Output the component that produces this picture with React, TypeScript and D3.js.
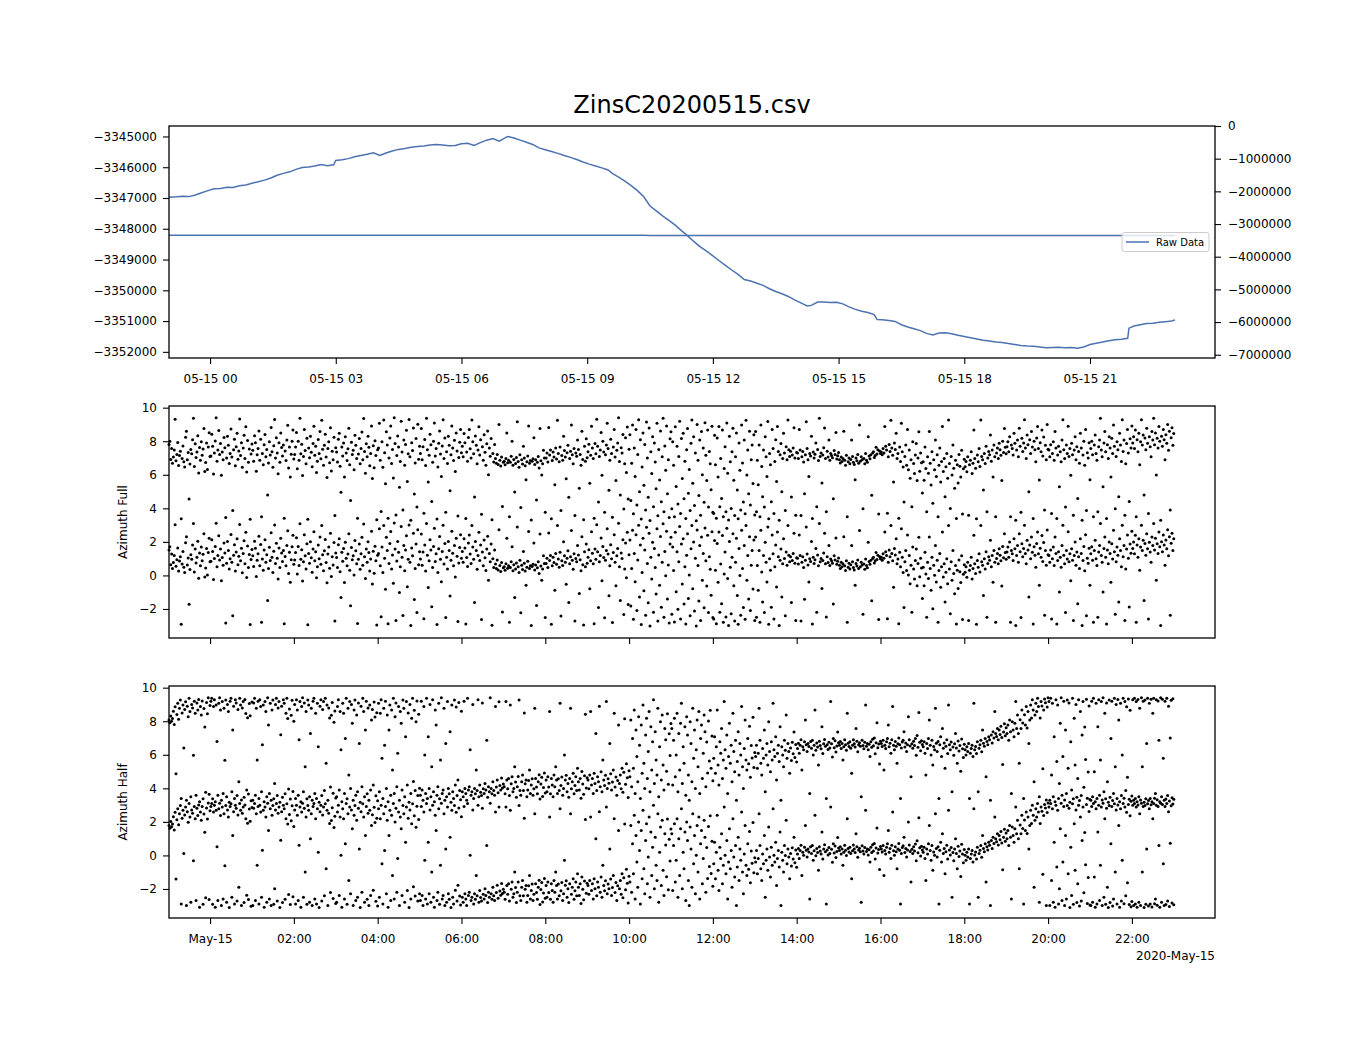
import { useEffect, useRef } from "react";
import * as d3 from "d3";

// ZinsC20200515.csv - raw reading on top, two azimuth scatter panels below

const title = "ZinsC20200515.csv";

// raw data: hours after 2020-05-15 00:00 UTC and the reading
const rawHours = [
  -0.98, -0.8, -0.65, -0.5, -0.35, -0.2, -0.05, 0.1, 0.25, 0.4, 0.55, 0.7, 0.85, 1.0, 1.15, 1.3, 1.45, 1.6, 1.75, 1.9,
  2.05, 2.2, 2.35, 2.5, 2.65, 2.8, 2.95, 3.0, 3.15, 3.3, 3.45, 3.6, 3.75, 3.9, 4.05, 4.2, 4.35, 4.5, 4.65, 4.8,
  4.95, 5.1, 5.25, 5.4, 5.55, 5.7, 5.85, 6.0, 6.15, 6.3, 6.45, 6.6, 6.75, 6.9, 7.0, 7.1, 7.25, 7.4, 7.55, 7.7,
  7.85, 8.0, 8.15, 8.3, 8.45, 8.6, 8.75, 8.9, 9.05, 9.2, 9.35, 9.5, 9.6, 9.75, 9.9, 10.05, 10.2, 10.35, 10.5, 10.65,
  10.8, 10.95, 11.1, 11.25, 11.4, 11.55, 11.7, 11.85, 12.0, 12.15, 12.3, 12.45, 12.6, 12.75, 12.9, 13.05, 13.2, 13.35, 13.5, 13.65,
  13.8, 13.95, 14.1, 14.25, 14.35, 14.5, 14.65, 14.8, 14.95, 15.1, 15.25, 15.4, 15.55, 15.7, 15.85, 15.92, 16.05, 16.2, 16.35, 16.5,
  16.65, 16.8, 16.95, 17.1, 17.25, 17.4, 17.55, 17.7, 17.85, 18.0, 18.15, 18.3, 18.45, 18.6, 18.75, 18.9, 19.05, 19.2, 19.35, 19.5,
  19.65, 19.8, 19.95, 20.1, 20.25, 20.4, 20.55, 20.7, 20.85, 21.0, 21.15, 21.3, 21.45, 21.6, 21.75, 21.9, 21.93, 22.05, 22.2, 22.35,
  22.5, 22.65, 22.8, 22.95, 23.03,
];
const rawValues = [
  -3346975, -3346960, -3346940, -3346955, -3346900, -3346830, -3346760, -3346700, -3346690, -3346650, -3346660, -3346600, -3346580, -3346520, -3346470, -3346420, -3346350, -3346260, -3346200, -3346150,
  -3346070, -3346010, -3345990, -3345960, -3345915, -3345950, -3345920, -3345780, -3345760, -3345720, -3345660, -3345620, -3345580, -3345530, -3345620, -3345540, -3345470, -3345420, -3345390, -3345350,
  -3345330, -3345310, -3345280, -3345260, -3345280, -3345300, -3345290, -3345240, -3345220, -3345290, -3345200, -3345120, -3345070, -3345150, -3345080, -3345000, -3345050, -3345120, -3345190, -3345260,
  -3345370, -3345430, -3345490, -3345550, -3345620, -3345680, -3345750, -3345830, -3345900, -3345960, -3346020, -3346090, -3346200, -3346320, -3346450, -3346600, -3346760, -3346960, -3347260, -3347420,
  -3347580, -3347730, -3347880, -3348060, -3348230, -3348420, -3348590, -3348730, -3348880, -3349040, -3349190, -3349340, -3349480, -3349650, -3349700, -3349770, -3349840, -3349950, -3350040, -3350110,
  -3350200, -3350310, -3350410, -3350510, -3350490, -3350380, -3350380, -3350400, -3350390, -3350440, -3350540, -3350620, -3350680, -3350720, -3350790, -3350950, -3350960, -3350980, -3351010, -3351120,
  -3351190, -3351250, -3351310, -3351400, -3351450, -3351390, -3351380, -3351410, -3351460, -3351500, -3351540, -3351580, -3351620, -3351650, -3351680, -3351700, -3351730, -3351760, -3351790, -3351810,
  -3351820, -3351840, -3351870, -3351860, -3351850, -3351870, -3351860, -3351880, -3351840, -3351760, -3351720, -3351680, -3351640, -3351610, -3351590, -3351560, -3351230, -3351160, -3351120, -3351080,
  -3351070, -3351040, -3351020, -3351000, -3350960,
];

// azimuth samples (radians, -pi..pi), one every 75 s from 2020-05-14 23:01:12, one row per hour
const azFull = [
  1.52, 1.71, 0.63, 1.28, 0.41, 0.77, 1.19, 3.02, 0.55, 0.93, 1.64, 0.27, 0.86, 1.12, -2.91, 0.68, 1.43, 0.49, 0.18, 1.95, 2.31, 0.62, 1.04, -1.72, 0.36, 1.23, 0.97, 1.81, 3.09, 0.21, 1.57, 0.74, 1.08, 2.04, -0.17, 1.34, 0.58, 1.69, 0.88, 1.26, 2.48, -0.09, 0.45, 1.61, 0.03, 1.37, 2.22, 0.81,
  0.84, 2.13, 1.42, -0.24, 1.01, 1.73, 3.11, 0.52, 1.19, 2.36, 0.92, 1.58, -0.31, 1.07, 0.61, 1.94, 1.33, -2.83, 0.72, 2.02, 1.48, 0.39, 0.99, 2.44, 0.78, -2.41, 1.21, 1.83, 0.26, 1.39, 2.19, 0.64, 1.14, 3.04, 0.87, 1.62, 0.16, 1.31, 2.07, 0.69, 2.58, -0.12, 1.76, 0.47, 1.25, -2.93, 0.95, 1.55,
  1.18, 0.53, 2.04, 1.62, -0.07, 0.91, 1.29, 2.33, 0.58, 1.84, -2.79, 0.98, 0.31, 1.51, 2.12, 0.79, 1.23, -1.49, 0.42, 1.68, 0.89, 2.54, 1.09, 0.17, 1.44, 3.01, 0.71, 1.92, 1.02, -0.22, 1.63, 0.47, 2.21, 1.34, 0.83, 1.49, -2.88, 1.13, 0.57, 1.79, 2.67, 0.12, 1.38, -0.41, 0.94, 1.71, 2.39, 0.66,
  0.92, 1.37, 2.24, 0.08, 1.72, 0.59, 3.08, 0.97, 1.53, -0.33, 0.81, 2.42, 1.17, 0.38, 1.89, -2.94, 1.31, 0.73, 2.01, 1.06, 0.19, 1.58, 2.61, 0.88, 1.41, -0.14, 0.52, 1.82, 0.99, 2.29, 0.67, 2.97, 1.24, 0.28, 1.47, 2.14, 0.77, -0.44, 1.28, 1.69, 0.43, 2.52, -0.06, 1.12, 0.62, 1.96, -2.71, 1.33,
  1.07, 0.48, 1.83, 2.19, 0.22, -1.32, 1.38, 0.84, 1.61, -0.42, 1.98, 1.02, 0.57, 1.27, 2.49, 0.31, -1.81, 1.66, 0.93, 1.18, 0.02, 2.08, 1.47, 0.69, -2.87, 0.96, 1.88, 0.37, 1.29, 2.27, 0.61, 3.07, 1.11, -0.19, 1.57, 0.79, 2.01, 1.36, 0.26, 0.98, 2.63, -0.51, 1.44, 0.13, 1.74, 0.87, -2.96, 1.21,
  1.31, 2.79, 0.58, -2.47, 1.69, 0.17, 2.98, 1.03, -0.82, 2.28, 1.49, -2.88, 0.71, 1.91, 2.62, 0.39, 1.22, -0.47, 3.12, 1.58, -2.68, 0.86, 2.03, 1.38, -1.02, 0.51, 2.91, 1.08, -2.39, 1.79, 0.28, 1.52, 2.37, -0.68, 0.97, 3.01, 0.79, -2.99, 1.63, 1.17, 2.51, -1.43, 0.42, 1.88, -2.21, 2.73, 0.64, 1.41,
  0.98, 2.47, 0.61, 1.39, -2.58, 1.82, 0.27, 3.09, 1.21, -0.72, 0.88, 2.13, 1.51, -1.87, 0.47, 1.72, 2.81, 0.83, 1.29, -2.92, 0.18, 1.59, 2.32, 0.96, -0.38, 1.43, 2.99, 0.68, 1.91, -2.51, 1.09, 0.39, 2.02, 1.48, -1.23, 0.91, 2.63, 1.32, 0.57, 1.78, -0.09, 2.21, 1.14, -2.74, 0.74, 1.66, 2.42, 1.03,
  1.42, 0.79, 2.18, 1.63, -2.89, 1.07, 0.53, 1.94, 2.41, 1.27, 0.71, 2.98, 1.69, 0.97, -1.61, 2.03, 1.48, 0.37, 1.19, 2.58, 0.89, 1.81, -2.63, 1.39, 0.58, 2.11, 1.06, 0.29, 1.57, 2.33, -0.28, 1.31, 0.82, 1.88, -2.97, 0.99, 0.48, 1.52, 0.68, 0.41, 0.92, 0.33, 2.72, 0.59, 0.24, 0.77, -2.18, 0.46,
  0.52, 0.31, 0.69, 2.21, 0.43, 0.58, -2.79, 0.47, 0.82, 1.71, 0.28, 0.63, -1.31, 0.39, 0.74, 2.88, 0.51, 0.17, 0.91, -2.23, 0.61, 0.36, 1.42, 0.72, 0.26, -0.58, 0.49, 0.84, 2.62, 0.41, 0.57, -2.98, 0.53, 0.67, 1.93, 0.33, 0.62, -1.79, 0.46, 0.81, 0.12, 2.47, 0.56, -0.29, 0.38, 1.18, 0.71, -2.51,
  0.71, 1.02, 0.48, 2.53, 0.89, 1.19, -2.91, 0.57, 1.08, 0.77, -0.88, 1.31, 0.66, 2.97, 0.98, 0.49, 1.38, -2.42, 0.87, 0.59, 2.01, 1.17, 0.78, -0.52, 1.03, 1.47, -1.62, 0.69, 1.12, 2.68, 0.91, 0.37, 1.29, -2.71, 1.01, 0.82, 1.79, 1.22, -1.08, 0.93, 0.28, 2.31, 0.63, -2.96, 1.41, 0.52, 1.87, 0.73,
  1.09, 1.53, -0.79, 0.88, 2.61, 1.32, 0.69, -2.88, 1.58, 0.97, 3.02, 1.41, -1.91, 0.81, 1.19, 2.23, -0.31, 1.72, 1.07, -2.52, 0.91, 1.49, 2.79, 1.28, -1.21, 0.58, 1.83, 0.99, -2.81, 1.37, 2.42, 0.78, -0.62, 1.18, 1.61, 3.11, 0.51, -1.49, 1.33, 1.01, 2.12, -2.33, 0.38, 1.93, -0.14, 2.57, -1.73, 1.24,
  2.11, -1.82, 0.41, 2.69, -2.61, 1.31, -0.38, 2.42, -2.09, 0.92, 2.99, -1.29, 1.81, -2.92, 0.18, 2.21, -0.91, 1.52, -2.38, 2.87, 0.71, -1.63, 2.51, -3.01, 1.09, -0.21, 1.98, -2.19, 1.61, 0.48, -1.11, 2.79, -2.72, 1.22, -0.59, 2.32, -1.89, 0.79, 3.08, -2.49, 1.43, -0.02, 2.63, -1.41, 0.62, -2.83, 1.87, 2.28,
  -2.31, 1.69, 0.29, -2.78, 2.58, -0.98, 1.41, -2.02, 0.81, 2.91, -2.59, 1.88, -0.51, 2.19, -1.71, 0.52, -2.89, 1.21, 2.48, -1.38, 0.03, -2.41, 1.59, 2.98, -0.79, 1.99, -2.12, 1.02, -3.02, 2.71, 0.59, -1.52, 1.79, -2.69, 2.29, -0.28, 1.31, -1.92, 2.82, 0.88, -0.63, 2.39, -2.21, 1.11, 0.37, -1.18, 2.61, -2.51,
  -2.59, 2.08, 0.31, -2.88, 1.91, -0.41, 2.59, -2.19, 0.68, -1.69, 2.38, -2.79, 0.09, 1.39, -2.48, 2.81, -0.19, -2.98, 2.02, 0.49, -2.29, 1.09, 2.49, -0.61, -2.71, 0.79, 2.21, -1.19, -2.91, 1.61, -0.01, -2.38, 2.69, 0.42, -1.91, 1.79, -2.61, 2.97, -0.29, 1.19, -1.41, 2.31, -2.09, 0.61, 1.49, -0.81, 2.11, -2.68,
  2.29, -2.49, 0.59, -0.88, 1.49, -2.79, 2.69, 0.21, -1.59, 1.19, -2.21, 1.98, 0.79, -0.39, 2.89, -2.91, 0.99, 0.31, -1.89, 2.41, 1.29, -2.59, 0.51, 1.81, -0.69, 2.59, 1.11, -2.99, 0.91, 1.58, -1.29, 0.69, 2.19, 1.01, -2.41, 1.39, 0.61, 2.98, 1.21, 0.81, 1.12, -1.61, 0.89, 1.31, 2.52, 0.72, -2.69, 1.05,
  1.02, 0.68, 2.41, 1.19, -2.71, 0.79, 1.11, 0.48, -1.42, 0.91, 2.88, 1.28, 0.62, -0.39, 0.99, 0.83, 2.02, -2.89, 1.08, 0.71, 0.94, 1.61, -2.19, 1.22, 0.57, 3.09, 0.81, 1.01, -0.78, 0.89, 1.33, 2.51, 0.69, -2.48, 1.12, 0.77, 1.79, 0.59, 0.98, 0.87, 0.73, -1.71, 1.17, 0.92, 2.23, 0.66, 0.85, 1.04,
  0.61, 0.42, 0.78, 0.51, 0.69, 2.31, 0.58, 0.29, 0.88, -2.79, 0.49, 0.72, 0.38, 0.63, 1.79, 0.81, 0.47, 0.33, -0.58, 0.71, 0.56, 0.92, 0.41, 2.68, 0.52, 0.79, 0.62, -2.31, 0.68, 0.37, 0.98, 0.59, 0.46, 1.98, 0.83, 0.67, 0.91, -1.51, 1.01, 1.09, 0.74, 0.87, 1.36, 0.95, 1.21, -2.62, 1.13, 0.99,
  1.08, 0.91, 1.29, 1.02, 2.59, 1.41, 1.19, -2.58, 0.79, 1.52, 1.11, 2.97, 1.31, 0.88, -0.71, 1.61, 1.22, 2.19, 0.69, 0.98, -2.88, 1.38, 0.51, 2.79, 1.09, 0.18, -1.91, 0.81, 1.49, 0.29, 2.41, 0.02, 1.19, -0.49, 0.61, -2.19, 1.69, 0.39, -0.21, 0.89, 1.58, -0.62, 0.71, 2.28, -0.08, 1.02, 0.44, -1.37,
  0.49, -0.61, 1.38, 0.09, -2.49, 0.79, -0.19, 2.29, 0.41, -0.89, 1.09, -1.98, 0.61, 0.01, 1.79, -0.39, 0.91, -2.79, 0.29, 1.31, -0.71, 0.51, 2.59, -0.09, 0.69, -1.59, 0.19, 0.99, -0.49, 2.98, 0.39, -2.29, 0.81, -0.29, 1.49, 0.11, -1.09, 0.59, -2.89, 0.31, -0.78, 0.92, 0.22, -0.42, 1.18, -2.62, 0.07, 0.64,
  0.19, 0.51, -0.11, 0.79, -2.69, 0.31, 0.59, 1.09, -0.21, 0.41, 2.39, 0.69, 0.11, -2.91, 0.89, 0.49, 1.29, 0.21, 2.98, 0.81, 0.61, -1.19, 0.99, 0.39, 1.41, -2.49, 0.71, 1.11, 0.91, 2.09, 0.52, 1.19, -0.41, 1.49, 0.79, -2.79, 1.01, 1.31, 0.69, 1.59, 1.21, 0.88, -0.63, 1.72, 1.05, 2.48, 1.36, 0.97,
  1.39, 1.69, 1.09, 1.99, -2.79, 1.49, 1.29, 0.89, 2.19, 1.59, -2.99, 1.19, 1.79, 0.79, 2.49, 1.41, -2.51, 1.89, 1.11, 1.61, 2.99, 1.31, 0.69, 2.09, 1.51, -1.29, 1.81, 0.99, 2.29, 1.38, -2.89, 1.71, 1.21, 0.49, 1.91, 2.59, 1.29, -0.59, 1.62, 1.09, 2.38, 0.83, 1.97, -2.38, 1.48, 0.61, 2.71, 1.24,
  1.19, 0.79, 1.51, -2.59, 0.99, 1.69, 0.59, 2.29, 1.31, -2.89, 0.89, 1.41, -0.99, 1.09, 0.49, 1.79, 2.99, 1.21, 0.69, -2.21, 1.49, 0.98, 2.61, 0.81, 1.29, -0.31, 1.59, 0.91, -2.69, 1.19, 1.99, 0.61, 1.39, -1.69, 1.11, 0.41, 2.19, 1.31, -2.99, 0.89, 1.72, 0.28, 2.42, -2.41, 1.03, 0.72, 1.62, -0.58,
  1.29, 1.71, 0.91, -2.79, 1.49, 2.09, 0.99, 0.59, -2.49, 1.39, 1.79, 3.09, 1.19, 0.79, -0.99, 1.61, 2.29, 1.09, -2.89, 1.51, 0.69, 1.99, 1.31, -0.41, 1.89, 0.98, 2.69, 1.41, -2.31, 0.81, 1.69, 1.21, -1.59, 2.19, 1.49, 0.51, 2.99, 1.11, 1.79, -2.69, 0.38, 1.58, 2.41, 1.02, -1.88, 1.87, 1.32, 2.63,
  1.61, 1.99, 1.29, 2.39, -2.79, 1.81, 1.09, 2.19, 0.31, 1.69, 2.99, 1.49, 2.09, -1.49, 1.91, 1.21, 2.49, 1.59, -2.59, 1.98, 1.39, 0.79, 2.29, 1.79, 3.09, 1.51, 2.21, -0.29, 1.89, 1.31, 2.59, 1.71, -2.99, 2.01, 1.41, 2.41, 1.81, 0.61, 2.11, 1.59, 2.72, 1.18, 2.31, -2.38, 1.92, 2.52, 1.48, 2.18,
];

const azHalf = [
  1.79, 1.62, 2.03, 1.71, 1.88, 2.31, 1.52, 2.58, -1.41, 2.12, 2.79, 1.83, 2.49, 2.98, -2.89, 2.21, 2.69, 0.12, 2.41, 2.88, -2.99, 2.61, 1.98, 3.09, 2.29, -2.79, 2.71, 2.51, -0.31, 2.91, 2.19, -2.69, 2.81, 2.38, 3.01, -3.09, 2.59, 2.09, 2.92, -2.91, 2.47, 1.38, -2.52, 2.83, 2.17, 3.12, -2.63, 2.66,
  2.91, 3.09, -2.91, 2.59, 2.99, -3.09, 2.69, 0.51, -2.69, 2.79, 3.11, 2.38, -2.99, 2.89, -2.59, 2.49, -0.61, 2.98, -2.79, 2.71, 2.29, -3.11, 2.91, 3.08, -2.49, 1.19, 2.61, -2.89, 2.99, 2.81, -2.71, 2.41, -1.89, 3.09, 2.69, -2.98, 2.51, 2.89, -2.81, 3.01, 2.18, -2.38, 1.92, -2.62, 2.77, 2.04, -3.03, 2.86,
  -2.99, 2.81, 3.09, -2.69, 2.49, -0.59, 2.91, -2.89, 2.99, 2.59, -2.49, 0.31, 2.69, -3.09, 2.89, 2.29, -2.79, 3.11, 1.49, -2.59, 2.79, -2.99, 2.39, 2.98, -2.91, -1.99, 2.71, 3.09, -2.71, 2.51, 2.89, -3.11, 0.91, 2.61, -2.81, 2.99, 2.79, -2.61, 2.19, 3.08, 1.88, -2.33, 2.44, -2.92, 2.07, 2.96, -2.47, 1.72,
  2.71, -2.89, 2.99, 2.39, -2.69, 0.61, 2.89, -3.09, 2.59, 3.11, -2.49, 2.81, -0.99, 2.29, -2.91, 2.98, 2.69, -2.79, 0.99, 2.49, -2.99, 2.91, 3.09, -2.59, 2.19, -2.89, 2.79, 0.19, -3.11, 2.61, 2.99, -2.71, 2.41, 2.89, -2.41, 3.08, -0.79, 2.69, -2.99, 2.51, 1.91, -2.21, 2.08, 2.84, -2.57, 1.66, 2.33, -2.86,
  -2.79, 2.59, 2.99, -2.39, 2.29, 0.01, -3.09, 2.79, 2.19, -2.59, 0.69, 3.09, -2.91, 2.49, -1.49, 2.89, -2.29, 2.71, 1.59, -2.99, 2.39, 2.98, -2.69, 2.09, -2.49, 2.81, 0.39, -3.11, 2.61, -2.19, 3.08, 2.29, -2.79, 1.19, 2.91, -2.61, 2.51, -2.99, 2.69, -2.39, 1.79, 2.42, -2.08, 2.87, 1.97, -2.73, 2.22, -3.02,
  2.79, -2.49, 2.19, 2.99, -0.49, -2.89, 2.49, 0.29, 2.91, -2.29, 2.09, -3.09, 1.19, 2.69, -2.69, 2.39, -1.19, 3.09, -2.59, 1.99, 2.81, -2.19, -0.19, 2.59, -2.99, 2.29, 1.59, -2.39, 2.98, 2.49, -2.79, 0.79, 2.89, -2.09, 2.21, -3.11, 2.71, -2.59, 1.89, 3.08, -1.87, 2.37, -2.42, 1.68, 2.93, -2.71, 2.14, -2.28,
  -2.69, 2.91, -2.39, -2.99, 2.59, -0.29, -2.59, 3.09, -2.89, 0.79, -2.29, 2.71, -2.79, -0.99, 2.99, -2.49, -3.09, 2.39, 1.49, -2.69, -2.19, 2.79, -2.91, -0.59, 3.11, -2.59, -2.39, 2.49, -2.99, 0.39, -2.79, 2.89, -2.29, -2.61, 1.09, -3.11, 2.69, -2.49, -2.89, 2.98, -2.08, 2.57, -2.71, -1.78, 2.83, -2.42, -2.96, 2.31,
  -2.49, -2.79, 2.91, -2.29, -2.59, -2.99, 3.09, -2.39, -2.19, 0.01, -2.69, -2.49, 2.71, -2.89, -2.29, -2.61, -1.19, -2.41, 2.99, -2.79, -2.09, -2.51, -2.71, 2.81, -2.31, -2.59, -1.99, -2.39, 0.59, -2.81, -2.19, -2.49, 3.11, -2.29, -2.61, -1.89, -2.41, -2.69, 2.59, -2.21, -1.78, -2.55, 2.88, -2.12, -2.38, -1.67, -2.27, -2.02,
  -2.19, -2.61, 2.89, -1.79, -2.31, -1.69, -2.71, 2.69, -2.01, -1.59, -2.49, -2.29, -0.99, -1.91, -2.81, -2.19, -1.58, 2.98, -2.41, -2.69, -1.89, -1.49, -2.41, 2.21, -2.01, -1.79, -2.79, -2.39, -1.81, -1.19, -2.59, -2.09, -1.71, -2.69, -2.31, 2.49, -1.69, -2.21, -2.61, -1.89, -1.48, -2.92, -2.03, -1.62, -2.77, -2.24, -1.37, -2.56,
  -1.79, -2.49, -1.59, -2.21, 2.29, -2.61, -1.69, -2.09, -2.79, -1.49, -2.19, -0.99, -1.79, -2.59, -1.71, -2.41, 2.79, -2.11, -1.61, -2.69, -2.29, -0.29, -1.78, -1.51, -2.49, -1.99, -2.81, -1.69, 2.49, -2.31, -1.89, -1.39, -2.61, -2.11, -1.59, -2.41, -1.09, -1.89, -2.39, -1.69, -2.87, -1.28, -2.02, -2.64, -1.53, 2.14, -2.26, -1.66,
  -1.79, -2.31, -1.49, 2.29, -2.09, -1.69, -2.59, -1.39, -1.99, 0.99, -2.41, -1.59, -1.89, 2.61, -2.19, -1.29, -2.49, -0.59, -1.79, -2.11, -1.51, 2.89, -2.29, -1.71, -1.98, 0.39, -1.41, -2.39, -1.91, -1.19, 2.19, -2.21, -1.61, -2.69, -1.81, 1.49, -1.99, -1.49, -2.31, -1.09, -2.52, -1.33, 1.87, -2.04, -0.82, -1.66, -2.83, -1.24,
  -1.59, 1.79, -2.19, 0.69, -1.09, 2.39, -2.59, 1.19, -0.39, -1.89, 1.99, 0.29, -2.89, 1.49, -1.39, 2.69, -0.79, -2.29, 0.89, 1.89, -1.69, -0.09, 2.29, -2.49, 1.39, -1.19, 0.49, 2.99, -1.99, 1.09, -0.59, -1.49, 2.49, -2.79, 0.19, 1.69, -1.79, 2.09, -0.89, -2.39, 1.29, 0.62, -1.27, 2.17, -2.04, 0.97, -0.33, 1.58,
  1.29, -2.09, 0.59, 1.89, -1.59, -0.29, 2.19, -2.49, 0.99, -1.19, 1.59, 2.79, -1.99, 0.19, -0.79, 1.39, -2.69, 1.99, 0.89, -1.49, -2.99, 1.69, 0.39, -1.89, 2.49, -0.49, 1.19, -2.29, 0.01, 1.79, -0.99, 2.29, -2.59, 0.69, 1.49, -1.69, -0.19, 2.09, 1.09, -2.19, 0.48, -1.37, 1.73, -0.66, 2.37, -1.08, 0.84, -1.83,
  -0.49, 0.79, -1.39, 0.19, 2.39, -0.89, -2.09, 0.49, -0.19, 1.29, -1.69, -0.59, 2.89, 0.01, -1.09, 0.89, -2.59, -0.39, 1.59, -0.79, 0.29, -1.89, 2.19, -0.09, -1.29, 0.59, -2.99, -0.69, 1.09, -1.49, 0.39, -0.29, 2.59, -0.99, -2.29, 0.09, 1.79, -0.59, -1.19, 0.69, -0.82, 1.42, -1.63, 0.27, -0.47, 1.96, -1.04, -0.14,
  -0.39, 0.29, -1.09, -0.19, 2.49, 0.59, -0.79, -1.49, 0.09, -0.49, 1.19, -2.49, -0.29, 0.39, -0.89, 1.69, -0.09, -1.29, 0.49, -0.59, 2.79, 0.01, -0.39, 0.79, -1.79, -0.19, 0.29, -0.69, 1.39, -2.99, 0.19, -0.29, -0.99, 0.59, -0.01, 2.09, -0.49, 0.39, -0.09, -1.39, 0.12, -0.63, 0.46, -0.22, 1.08, -0.44, 0.33, -0.71,
  0.09, 0.41, -0.19, 0.29, 0.61, -1.19, 0.19, 0.01, 0.49, 1.79, 0.31, -0.09, 0.39, 0.21, -2.59, 0.51, 0.11, 0.59, -0.29, 0.28, 2.39, -0.02, 0.42, 0.18, -0.89, 0.52, 0.27, 0.08, 1.39, -0.21, 0.38, 0.63, 0.22, -2.89, 0.32, 0.03, 0.47, 0.12, 2.89, 0.37, -0.41, 0.69, 0.14, 0.56, -0.12, 0.24, 1.07, 0.44,
  0.29, 0.51, 0.09, 0.39, -0.59, 0.19, 0.61, 0.31, -0.01, 2.19, 0.41, 0.21, 0.49, 0.11, -1.39, 0.28, 0.62, 0.38, 0.18, 1.29, 0.52, -0.11, 0.32, 0.43, 0.22, -2.79, 0.58, 0.27, 0.08, 0.47, 2.69, 0.23, 0.39, 0.02, 0.34, -0.39, 0.49, 0.17, 0.64, 0.26, 0.71, -0.22, 0.44, 1.63, 0.14, 0.36, -0.84, 0.53,
  0.39, 0.21, 0.59, -1.19, 0.29, 0.09, 0.49, 0.69, 1.49, 0.19, 0.41, -0.19, 0.61, 2.59, 0.28, 0.01, 0.51, 0.22, -0.79, 0.38, 0.71, 0.31, -2.89, 0.12, 0.48, 0.58, 1.09, 0.18, 0.42, -0.09, 0.32, 1.99, 0.62, 0.24, -1.59, 0.37, 0.11, 0.52, 0.27, 0.68, -0.31, 0.87, 0.16, 2.24, 0.46, -0.04, 0.55, 0.33,
  0.19, 0.49, -0.19, -1.49, 0.39, 0.09, 0.69, 1.79, 0.29, -0.29, 0.59, -0.89, 0.21, 0.01, 2.49, 0.41, -0.09, 0.51, -2.89, 0.31, 0.79, -0.39, 1.29, 0.11, 0.42, -1.09, 0.22, 0.61, -0.21, 2.69, 0.32, 0.02, 0.48, -2.49, 0.18, -0.31, 0.38, 0.99, 0.12, -0.79, 0.54, -0.06, 0.27, -1.26, 0.66, 0.08, -0.44, 0.35,
  0.01, -0.29, 0.19, -0.09, 0.39, -2.89, -0.19, 0.09, 0.29, -0.39, 2.79, 0.02, 0.21, -0.21, 0.49, -2.49, 0.11, 0.31, 0.59, -0.11, 1.19, 0.41, 0.22, 0.69, -1.59, 0.51, 0.32, 0.79, 0.61, -2.99, 0.89, 0.42, 1.09, 0.71, 2.29, 0.99, 0.81, 1.29, 0.62, 1.19, 0.93, 1.42, 0.74, -0.86, 1.08, 1.56, 0.85, 1.33,
  0.99, 1.49, 0.59, 1.79, 1.09, -2.59, 1.69, 1.19, 0.79, 1.59, 2.89, 1.29, 2.09, 0.99, -0.79, 1.81, 1.29, 2.39, 1.61, -2.89, 2.11, 1.49, 2.59, 1.31, 2.29, 0.39, 1.79, 2.69, 1.91, 2.99, 2.39, -1.89, 2.09, 2.79, 2.29, 3.09, 2.59, -2.79, 1.91, 2.89, 2.63, -1.12, 2.38, 3.04, 2.82, -2.98, 2.56, 3.12,
  2.89, -2.99, 3.09, -1.49, 2.79, -2.79, 0.79, -3.09, 2.99, -0.69, 2.69, -2.89, -1.99, 1.59, 3.11, -2.69, -0.39, 2.91, -2.98, 1.19, -2.59, 2.98, -1.09, 2.81, -3.11, 0.49, -2.39, 3.08, -2.91, 1.89, -0.89, 2.71, -2.81, -1.69, 2.99, -3.01, 2.29, -2.71, 0.89, 2.89, -2.22, 1.37, -0.56, 3.03, -2.87, -1.31, 2.62, -2.95,
  -2.99, 2.91, -2.79, 3.09, -1.29, -3.09, 2.79, -2.89, 1.39, 2.99, -2.69, -0.59, 2.89, -2.98, 3.11, -2.49, 2.19, -2.91, 2.81, -1.89, -3.11, 2.98, -2.81, 0.69, 2.91, -3.01, -2.59, 3.08, -0.99, 2.71, -2.89, 3.01, 1.79, -3.09, 2.79, -2.71, -0.29, 3.09, -2.88, 2.89, -2.41, 2.58, -1.63, 3.04, -2.93, 2.37, -3.06, -2.74,
  2.99, -2.99, 3.09, -2.89, 2.89, -3.09, 3.01, -2.79, 2.49, -2.98, 3.11, -0.99, 2.91, -3.11, 2.98, -2.91, 0.39, 3.08, -3.01, 2.79, -2.89, 3.02, -3.08, 2.19, 3.09, -2.88, -2.59, 2.99, -2.97, 2.92, 0.59, -3.09, 3.11, -2.79, 3.03, -0.49, -2.99, 2.91, -2.92, 3.09, -2.71, 2.61, -3.04, 0.72, 2.96, -2.84, 3.06, -2.94,
];

const leftTicks = [-3345000, -3346000, -3347000, -3348000, -3349000, -3350000, -3351000, -3352000];
const rightTicks = [0, -1000000, -2000000, -3000000, -4000000, -5000000, -6000000, -7000000];
const azTicks = [-2, 0, 2, 4, 6, 8, 10];
const panelLabels = ["Azimuth Full", "Azimuth Half"];

const day0 = Date.UTC(2020, 4, 15);
const sampleStart = Date.UTC(2020, 4, 14, 23, 1, 12);
const sampleStep = 75 * 1000;
const xEnd = Date.UTC(2020, 4, 15, 23, 59);

const font = "DejaVu Sans";
const lineBlue = "#4c72b0";

export default function App() {
  const ref = useRef<SVGSVGElement | null>(null);

  const dims = {
    width: 1350,
    height: 1050,
    left: 169,
    right: 1215,
    tops: [126, 406, 686],
    h: 232,
  };

  useEffect(() => {
    const svg = d3.select(ref.current);
    svg.selectAll("*").remove();

    const x = d3.scaleUtc()
      .domain([new Date(sampleStart), new Date(xEnd)])
      .range([dims.left, dims.right]);

    const styleAxis = (g: any) => {
      g.select(".domain").remove();
      g.selectAll(".tick line").attr("stroke", "#000").attr("stroke-width", 1.1);
      g.selectAll(".tick text").attr("fill", "#000");
      g.attr("font-family", font).attr("font-size", 12);
    };

    // ---- top panel: raw data, left + twin right axis
    const top = dims.tops[0];
    const yLeft = d3.scaleLinear().domain([-3352200, -3344660]).range([top + dims.h, top]);
    const yRight = d3.scaleLinear().domain([-7100000, 0]).range([top + dims.h, top]);
    const hourDate = (h: number) => new Date(day0 + h * 3600 * 1000);

    const curve = d3.line<number>()
      .x((_, i) => x(hourDate(rawHours[i])))
      .y(d => yLeft(d));
    const flat = d3.line<number>()
      .x((_, i) => x(hourDate(rawHours[i])))
      .y(d => yRight(d));

    svg.append("path").attr("d", curve(rawValues)).attr("fill", "none")
      .attr("stroke", lineBlue).attr("stroke-width", 1.5);
    svg.append("path").attr("d", flat(rawValues)).attr("fill", "none")
      .attr("stroke", lineBlue).attr("stroke-width", 1.5);

    svg.append("g").attr("transform", `translate(${dims.left},0)`)
      .call(d3.axisLeft(yLeft).tickValues(leftTicks).tickSize(6).tickPadding(6).tickFormat(d3.format("d")))
      .call(styleAxis);
    svg.append("g").attr("transform", `translate(${dims.right},0)`)
      .call(d3.axisRight(yRight).tickValues(rightTicks).tickSize(6).tickPadding(7).tickFormat(d3.format("d")))
      .call(styleAxis);

    const hours3 = d3.utcHour.every(3)!.range(new Date(sampleStart), new Date(xEnd));
    svg.append("g").attr("transform", `translate(0,${top + dims.h})`)
      .call(d3.axisBottom(x).tickValues(hours3).tickSize(6).tickPadding(10)
        .tickFormat(d => d3.utcFormat("%m-%d %H")(d as Date)))
      .call(styleAxis);

    // legend, centre right
    const lgW = 87, lgH = 19;
    const lgX = dims.right - 6 - lgW;
    const lgY = top + dims.h / 2 - lgH / 2;
    const lg = svg.append("g");
    lg.append("rect").attr("x", lgX).attr("y", lgY).attr("width", lgW).attr("height", lgH)
      .attr("rx", 2.5).attr("fill", "#fff").attr("fill-opacity", 0.8).attr("stroke", "#cccccc");
    lg.append("line").attr("x1", lgX + 4).attr("x2", lgX + 27).attr("y1", lgY + lgH / 2).attr("y2", lgY + lgH / 2)
      .attr("stroke", lineBlue).attr("stroke-width", 1.5);
    lg.append("text").attr("x", lgX + 34).attr("y", lgY + lgH / 2 + 3.6)
      .attr("font-family", font).attr("font-size", 10).text("Raw Data");

    // ---- azimuth panels: every sample is drawn at v and at v + 2pi
    const hours2 = d3.utcHour.every(2)!.range(new Date(sampleStart), new Date(xEnd));
    [azFull, azHalf].forEach((arr, p) => {
      const t = dims.tops[p + 1];
      const y = d3.scaleLinear().domain([-3.73, 10.1]).range([t + dims.h, t]);
      const pts = arr.flatMap((v, i) => {
        const when = new Date(sampleStart + i * sampleStep);
        return [{ when, v }, { when, v: v + 2 * Math.PI }];
      });
      svg.append("g").selectAll("circle").data(pts).join("circle")
        .attr("cx", d => x(d.when))
        .attr("cy", d => y(d.v))
        .attr("r", 1.5)
        .attr("fill", "#000");

      svg.append("g").attr("transform", `translate(${dims.left},0)`)
        .call(d3.axisLeft(y).tickValues(azTicks).tickSize(6).tickPadding(6).tickFormat(d3.format("d")))
        .call(styleAxis);

      const fmt = (d: Date) =>
        p === 0 ? "" : d.getUTCHours() === 0 ? d3.utcFormat("%b-%d")(d) : d3.utcFormat("%H:%M")(d);
      svg.append("g").attr("transform", `translate(0,${t + dims.h})`)
        .call(d3.axisBottom(x).tickValues(hours2).tickSize(6).tickPadding(10).tickFormat(d => fmt(d as Date)))
        .call(styleAxis);

      svg.append("text")
        .attr("transform", `translate(127,${t + dims.h / 2}) rotate(-90)`)
        .attr("text-anchor", "middle").attr("font-family", font).attr("font-size", 12)
        .text(panelLabels[p]);
    });

    // offset text under the bottom axis
    svg.append("text").attr("x", dims.right).attr("y", dims.tops[2] + dims.h + 42)
      .attr("text-anchor", "end").attr("font-family", font).attr("font-size", 12)
      .text(d3.utcFormat("%Y-%b-%d")(new Date(day0)));

    // frames
    dims.tops.forEach(t => {
      svg.append("rect").attr("x", dims.left).attr("y", t).attr("width", dims.right - dims.left)
        .attr("height", dims.h).attr("fill", "none").attr("stroke", "#000").attr("stroke-width", 1.3);
    });

    svg.append("text").attr("x", (dims.left + dims.right) / 2).attr("y", 113)
      .attr("text-anchor", "middle").attr("font-family", font).attr("font-size", 24)
      .text(title);
  }, []);

  return (
    <div style={{ position: "absolute", left: 0, top: 0, background: "#fff" }}>
      <svg ref={ref} width={dims.width} height={dims.height} />
    </div>
  );
}
